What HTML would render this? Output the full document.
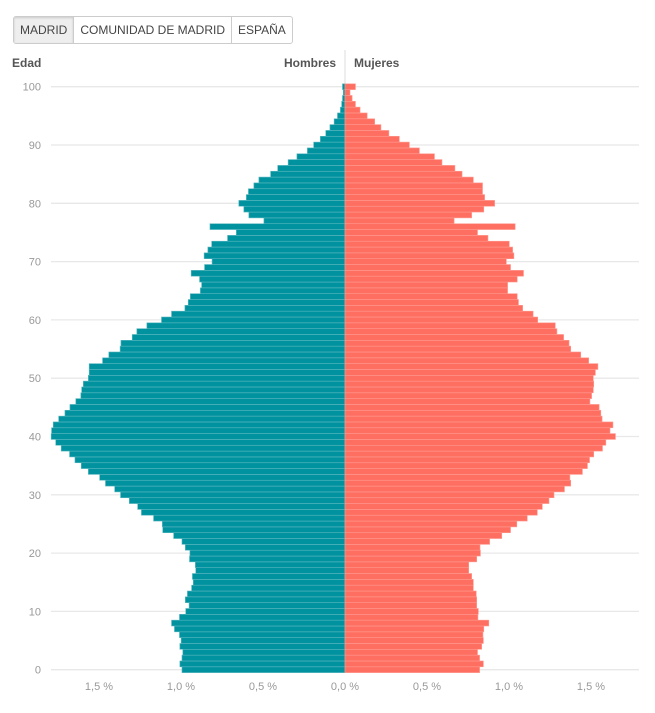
<!DOCTYPE html>
<html><head><meta charset="utf-8"><style>
body{margin:0;background:#fff;font-family:"Liberation Sans",sans-serif;}
.tabs{position:absolute;left:13px;top:16px;height:26px;border:1px solid #ccc;border-radius:3px;display:flex;font-size:12px;color:#444;}
.tabs div{padding:0 6px;line-height:26px;border-right:1px solid #ccc;}
.tabs div:last-child{border-right:none}
.tabs .on{background:#eee;box-shadow:inset 0 1px 2px rgba(0,0,0,.15)}
svg{position:absolute;left:0;top:0}
</style></head><body>
<div class="tabs"><div class="on">MADRID</div><div>COMUNIDAD DE MADRID</div><div>ESPAÑA</div></div>
<svg id="s" width="655" height="713" xmlns="http://www.w3.org/2000/svg"></svg>
<script>
var L={100:820,99:822,98:820,97:818,96:815,95:808,94:800,93:790,92:780,91:767,90:751,89:736,88:711,87:690,86:665,85:648,84:620,83:608,82:595,81:590,80:572,79:584,78:596,77:632,76:503,75:566,74:545,73:507,72:498,71:489,70:508,69:490,68:458,67:478,66:483,65:480,64:456,63:451,62:443,61:411,60:387,59:352,58:328,57:317,56:290,55:288,54:261,53:246,52:214,51:214,50:212,49:200,48:196,47:194,46:182,45:168,44:156,43:141,42:128,41:124,40:123,39:134,38:147,37:167,36:180,35:195,34:212,33:239,32:253,31:275,30:289,29:310,28:330,27:339,26:368,25:389,24:390,23:416,22:436,21:444,20:455,19:454,18:468,17:469,16:461,15:463,14:459,13:449,12:444,11:453,10:445,9:430,8:411,7:418,6:430,5:434,4:431,3:438,2:436,1:431,0:436};
var R={100:851,99:838,98:843,97:851,96:862,95:879,94:897,93:912,92:931,91:956,90:980,89:1004,88:1040,87:1058,86:1089,85:1106,84:1133,83:1155,82:1155,81:1160,80:1184,79:1158,78:1129,77:1087,76:1233,75:1143,74:1168,73:1219,72:1227,71:1230,70:1212,69:1222,68:1253,67:1238,66:1215,65:1215,64:1238,63:1241,62:1251,61:1276,60:1287,59:1329,58:1333,57:1349,56:1362,55:1366,54:1390,53:1409,52:1431,51:1425,50:1420,49:1421,48:1420,47:1416,46:1412,45:1434,44:1438,43:1441,42:1467,41:1460,40:1473,39:1450,38:1442,37:1421,36:1411,35:1406,34:1394,33:1364,32:1366,31:1351,30:1326,29:1314,28:1298,27:1286,26:1262,25:1237,24:1222,23:1201,22:1172,21:1149,20:1150,19:1141,18:1122,17:1122,16:1129,15:1133,14:1133,13:1140,12:1141,11:1141,10:1145,9:1144,8:1170,7:1158,6:1156,5:1157,4:1153,3:1143,2:1148,1:1157,0:1148};
var C=345,k=0.418,h='';
function X(z){return C+(z-826)*k;}
function Y(a){return 669.7-5.83*a;}
h+='<line x1="345" y1="50" x2="345" y2="86" stroke="#ddd"/>';
h+='<text x="12" y="67" font-size="12" font-weight="bold" fill="#555">Edad</text>';
h+='<text x="336" y="67" font-size="12" font-weight="bold" fill="#555" text-anchor="end">Hombres</text>';
h+='<text x="354" y="67" font-size="12" font-weight="bold" fill="#555">Mujeres</text>';
for(var a=0;a<=100;a+=10){var y=Y(a);h+='<line x1="51" x2="639" y1="'+y+'" y2="'+y+'" stroke="#e8e8e8" stroke-width="1.3"/>';
h+='<text x="41" y="'+(y+4)+'" font-size="11" fill="#999" text-anchor="end">'+a+'</text>';}
for(var a=0;a<=100;a++){var y=Y(a)-2.9,xl=X(L[a]),xr=X(R[a]);
h+='<rect x="'+xl+'" y="'+y+'" width="'+(C-xl)+'" height="5.83" fill="#00929f" stroke="#5cb8c0" stroke-width="0.6"/>';
h+='<rect x="'+C+'" y="'+y+'" width="'+(xr-C)+'" height="5.83" fill="#ff6f61" stroke="#ff9a90" stroke-width="0.6"/>';}
var t=[['1,5 %',-1.5],['1,0 %',-1],['0,5 %',-0.5],['0,0 %',0],['0,5 %',0.5],['1,0 %',1],['1,5 %',1.5]];
t.forEach(function(p){h+='<text x="'+(C+p[1]*164)+'" y="690" font-size="11" fill="#999" text-anchor="middle">'+p[0]+'</text>';});
document.getElementById('s').innerHTML=h;
</script>
</body></html>
